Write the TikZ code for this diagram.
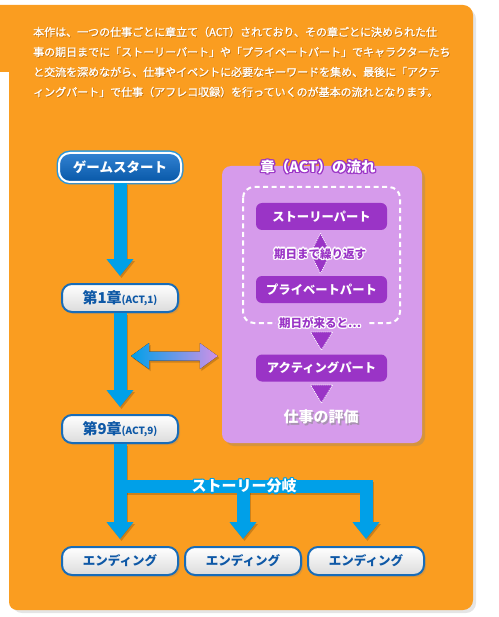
\documentclass[tikz,border=0pt]{standalone}
\usepackage{fontspec}
\setmainfont{Noto Sans CJK JP}
\newfontfamily\parafont{Noto Sans CJK JP}[FakeBold=1.2]
\usetikzlibrary{arrows.meta,shadows,calc}
\definecolor{orangebg}{RGB}{250,157,32}
\definecolor{arrowblue}{RGB}{0,160,232}
\definecolor{navytext}{RGB}{14,88,166}
\definecolor{nodeborder}{RGB}{24,108,184}
\definecolor{gsTop}{RGB}{50,130,210}
\definecolor{gsBot}{RGB}{8,88,168}
\definecolor{gsRing}{RGB}{40,150,220}
\definecolor{lavender}{RGB}{214,155,235}
\definecolor{deeppurple}{RGB}{154,52,198}
\definecolor{shadowbrown}{RGB}{170,90,0}
\newcommand{\outtext}[6]{%
  % #1 position, #2 name, #3 text colour, #4 outline colour, #5 font size, #6 text
  \foreach \ang in {0,45,...,315}{%
    \node[text=#4,inner sep=0pt] at ($(#1)+(\ang:1.4)$) {\fontsize{#5}{#5}\selectfont\bfseries #6};}
  \node[text=#3,inner sep=0pt] (#2) at (#1) {\fontsize{#5}{#5}\selectfont\bfseries #6};}
\tikzset{
  chapbox/.style={draw=nodeborder,line width=2pt,rounded corners=10pt,
    top color=white,bottom color=black!14,minimum width=116pt,minimum height=28pt,
    inner sep=0pt,text=navytext,drop shadow={shadow xshift=2pt,shadow yshift=-2pt,opacity=0.25}},
  pbox/.style={fill=deeppurple,rounded corners=6pt,minimum width=131pt,minimum height=27pt,
    inner sep=0pt,text=white,font=\fontsize{12.3}{12.3}\selectfont\bfseries},
  flowarrow/.style={draw=arrowblue,line width=13pt,
    -{Triangle[width=26pt,length=17pt]},shorten >=7pt},
  arrowshadow/.style={draw=black,opacity=0.18,line width=13pt,
    -{Triangle[width=26pt,length=17pt]},shorten >=7pt,
    transform canvas={shift={(1.5pt,-2pt)}}},
  purtri/.style={fill=deeppurple,draw=white,line width=0.8pt,dash pattern=on 1pt off 1pt},
  paratext/.style={anchor=west,inner sep=0pt,text=white,font=\parafont\fontsize{11}{11}\selectfont}
}
\begin{document}
\begin{tikzpicture}[x=1pt,y=-1pt]
\useasboundingbox (0,0) rectangle (498,617);
\fill[white] (0,0) rectangle (498,617);
% orange panel shadow
\fill[black,opacity=0.10] (12,9) [rounded corners=10pt] -- (476,9) -- (476,613) -- (12,613) [sharp corners] -- cycle;
% orange panel
\fill[orangebg] (0,5) [rounded corners=10pt] -- (473,5) -- (473,610) [rounded corners=8pt] -- (9,610) [sharp corners] -- (9,72) -- (0,72) -- cycle;
% paragraph
\foreach \y/\t in {32/{本作は、一つの仕事ごとに章立て（ACT）されており、その章ごとに決められた仕},
                   52/{事の期日までに「ストーリーパート」や「プライベートパート」でキャラクターたち},
                   72/{と交流を深めながら、仕事やイベントに必要なキーワードを集め、最後に「アクテ},
                   92/{ィングパート」で仕事（アフレコ収録）を行っていくのが基本の流れとなります。}}{
  \node[paratext,text=shadowbrown,opacity=0.5] at (33.8,\y+0.8) {\t};
  \node[paratext] at (33,\y) {\t};
}
% left column nodes
\node[draw=white,line width=2pt,rounded corners=11pt,top color=gsTop,bottom color=gsBot,
  preaction={draw=gsRing,line width=5pt},minimum width=122pt,minimum height=29pt,inner sep=0pt,
  text=white,font=\fontsize{13.5}{13.5}\selectfont\bfseries,
  drop shadow={shadow xshift=2pt,shadow yshift=-2pt,opacity=0.25}] (gs) at (120,167.5) {ゲームスタート};
\node[chapbox] (ch1) at (120,298) {{\fontsize{15}{15}\selectfont\bfseries 第1章}{\fontsize{10}{10}\selectfont\bfseries (ACT,1)}};
\node[chapbox] (ch9) at (120,429) {{\fontsize{15}{15}\selectfont\bfseries 第9章}{\fontsize{10}{10}\selectfont\bfseries (ACT,9)}};
\foreach \n/\x in {e1/120,e2/243,e3/366}{
  \node[chapbox,font=\fontsize{12.5}{12.5}\selectfont\bfseries] (\n) at (\x,561) {エンディング};
}
% vertical arrows
\draw[arrowshadow] (gs.south) -- (ch1.north);
\draw[flowarrow] (gs.south) -- (ch1.north);
\draw[arrowshadow] (ch1.south) -- (ch9.north);
\draw[flowarrow] (ch1.south) -- (ch9.north);
\coordinate (brL) at (120,486.5);
\draw[arrowshadow] (ch9.south) -- (e1.north);
\draw[arrowshadow] (e2.north |- brL) -- (e2.north);
\draw[arrowshadow] (brL) -- (e3.north |- brL) -- (e3.north);
\draw[flowarrow] (ch9.south) -- (e1.north);
\draw[flowarrow] (e2.north |- brL) -- (e2.north);
\draw[flowarrow,line join=miter] (brL) -- (e3.north |- brL) -- (e3.north);
\outtext{244,486}{branch}{white}{arrowblue}{15}{ストーリー分岐}
% purple flow box
\node[fill=lavender,rounded corners=9pt,minimum width=200pt,minimum height=277pt,inner sep=0pt,
  drop shadow={shadow xshift=3pt,shadow yshift=-3pt,opacity=0.3}] (flow) at (322,304.5) {};
\draw[white,line width=2pt,dash pattern=on 5pt off 3.5pt,rounded corners=11pt] (243,187) rectangle (400,323);
\node[pbox] (story) at (321.5,216.5) {ストーリーパート};
\node[pbox] (priv) at (321.5,289.5) {プライベートパート};
\node[pbox] (act) at (321.5,368) {アクティングパート};
% diamond between story and private
\coordinate (dmid) at ($(story.south)!0.5!(priv.north)$);
\filldraw[purtri] ($(story.south)+(-1,3)$) -- ($(dmid)+(9,0)$) -- ($(priv.north)+(-1,-2)$) -- ($(dmid)+(-11,0)$) -- cycle;
\outtext{320,254}{repeat}{deeppurple}{white}{11.5}{期日まで繰り返す}
% down triangles
\filldraw[purtri] (310.5,332) -- (332.5,332) -- (321.5,350) -- cycle;
\filldraw[purtri] (310.5,385) -- (332.5,385) -- (321.5,403) -- cycle;
\fill[lavender] (276,316) rectangle (366,330);
\outtext{320,323}{due}{deeppurple}{white}{11.5}{期日が来ると…}
% title
\outtext{318,167}{title}{white}{deeppurple}{14.5}{章（ACT）の流れ}
% evaluation
\node[text=black!45,inner sep=0pt,opacity=0.6] at (322.5,418.5) {\fontsize{15}{15}\selectfont\bfseries 仕事の評価};
\node[text=white,inner sep=0pt] (eval) at (321,417) {\fontsize{15}{15}\selectfont\bfseries 仕事の評価};
% double arrow between chapter column and flow box
\coordinate (dl) at (131,356);
\coordinate (dr) at ($(flow.west |- dl)+(-4,0)$);
\fill[black,opacity=0.18,transform canvas={shift={(1.5pt,-2pt)}}] (dl) -- ($(dl)+(18,-13)$) -- ($(dl)+(18,-4.5)$) -- ($(dr)+(-18,-4.5)$) -- ($(dr)+(-18,-13)$) -- (dr)
  -- ($(dr)+(-18,13)$) -- ($(dr)+(-18,4.5)$) -- ($(dl)+(18,4.5)$) -- ($(dl)+(18,13)$) -- cycle;
\fill[left color=arrowblue,right color=lavender!90!deeppurple] (dl) -- ($(dl)+(18,-13)$) -- ($(dl)+(18,-4.5)$) -- ($(dr)+(-18,-4.5)$) -- ($(dr)+(-18,-13)$) -- (dr)
  -- ($(dr)+(-18,13)$) -- ($(dr)+(-18,4.5)$) -- ($(dl)+(18,4.5)$) -- ($(dl)+(18,13)$) -- cycle;
\end{tikzpicture}
\end{document}
